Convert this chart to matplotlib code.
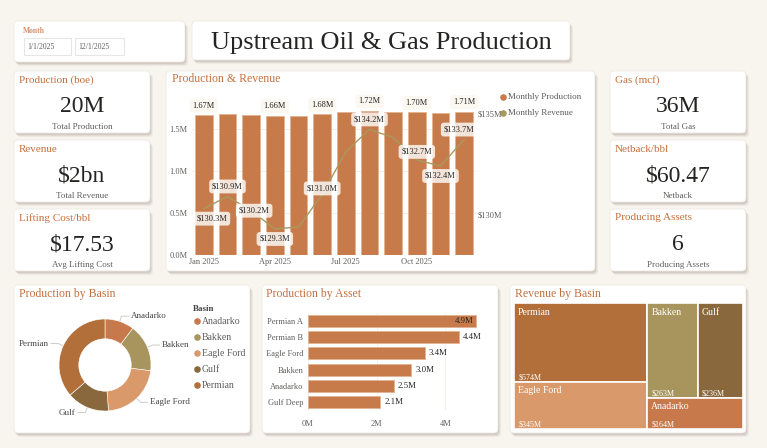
import matplotlib
matplotlib.use('Agg')
import matplotlib.pyplot as plt
from matplotlib.patches import FancyBboxPatch, Rectangle
import numpy as np

plt.rcParams['font.family'] = ['Liberation Serif', 'DejaVu Serif']

W, H = 767, 448
BG = '#F8F4EE'
ORANGE = '#C4703E'
DARK = '#252423'
GREY = '#605E5C'
BAR_C = '#C77B4B'
LINE_C = '#A89A5E'

# ---- data ----
months = ['Jan', 'Feb', 'Mar', 'Apr', 'May', 'Jun', 'Jul', 'Aug', 'Sep', 'Oct', 'Nov', 'Dec']
production = [1.67, 1.68, 1.67, 1.66, 1.66, 1.68, 1.70, 1.72, 1.71, 1.70, 1.69, 1.71]   # M boe
revenue = [130.3, 130.9, 130.2, 129.3, 129.4, 131.0, 133.1, 134.2, 133.8, 132.7, 132.4, 133.7]  # $M
bar_label_idx = [0, 3, 5, 7, 9, 11]
rev_label_idx = [0, 1, 2, 3, 5, 7, 9, 10, 11]
rev_label_off = [(8, -10), (0, 10), (3, 0), (0, -10), (0, 6), (0, 10), (0, 8), (0, -10), (-5, 10)]  # px

basins = ['Anadarko', 'Bakken', 'Eagle Ford', 'Gulf', 'Permian']
basin_prod = [2.09, 3.36, 4.40, 3.01, 7.33]
basin_rev = [164, 263, 345, 236, 574]
basin_colors = ['#C8794C', '#A8955E', '#D9996A', '#8A683D', '#B36F3A']

assets = ['Permian A', 'Permian B', 'Eagle Ford', 'Bakken', 'Anadarko', 'Gulf Deep']
asset_prod = [4.9, 4.4, 3.4, 3.0, 2.5, 2.1]

kpi_left = [('Production (boe)', '20M', 'Total Production'),
            ('Revenue', '$2bn', 'Total Revenue'),
            ('Lifting Cost/bbl', '$17.53', 'Avg Lifting Cost')]
kpi_right = [('Gas (mcf)', '36M', 'Total Gas'),
             ('Netback/bbl', '$60.47', 'Netback'),
             ('Producing Assets', '6', 'Producing Assets')]
date_from, date_to = '1/1/2025', '12/1/2025'

# ---- canvas ----
fig = plt.figure(figsize=(W / 100, H / 100), dpi=100, facecolor=BG)
bg = fig.add_axes([0, 0, 1, 1])
bg.set_xlim(0, W)
bg.set_ylim(H, 0)
bg.axis('off')


def card(x0, y0, x1, y1):
    for d, a in [(4, 0.05), (3, 0.07), (2, 0.09)]:
        bg.add_patch(FancyBboxPatch((x0 + d - 1, y0 + d), x1 - x0, y1 - y0,
                                    boxstyle='round,pad=0,rounding_size=4',
                                    fc='#3A2A1A', ec='none', alpha=a, zorder=1))
    bg.add_patch(FancyBboxPatch((x0, y0), x1 - x0, y1 - y0,
                                boxstyle='round,pad=0,rounding_size=4',
                                fc='white', ec='#ECE7E0', lw=0.5, zorder=2))


def add_ax(x0, y0, x1, y1):
    a = fig.add_axes([x0 / W, 1 - y1 / H, (x1 - x0) / W, (y1 - y0) / H])
    a.set_facecolor('none')
    return a


# month slicer + title
card(14, 21, 185, 62)
bg.text(23, 31, 'Month', color='#D9916A', fontsize=5.5, fontweight='bold', va='center', zorder=3)
for (x0, x1), s in zip([(24, 71), (75, 124)], [date_from, date_to]):
    bg.add_patch(Rectangle((x0, 38), x1 - x0, 17, fc='white', ec='#E6E6E6', lw=0.8, zorder=3))
    bg.text(x0 + 3, 47, s, fontsize=5.5, color=GREY, va='center', zorder=4)

card(192, 21, 570, 60)
bg.text(381, 43, 'Upstream Oil & Gas Production', fontsize=19, color=DARK,
        ha='center', va='center', zorder=3)

# KPI cards
for cx0, cx1, items in [(14, 150, kpi_left), (610, 746, kpi_right)]:
    for (t, v, s), y0, y1 in zip(items, [71, 140, 209], [133, 202, 271]):
        card(cx0, y0, cx1, y1)
        cx = (cx0 + cx1) / 2
        bg.text(cx0 + 5, y0 + 9, t, fontsize=8, color=ORANGE, va='center', zorder=3)
        bg.text(cx, y0 + 36, v, fontsize=17, color=DARK, ha='center', va='center', zorder=3)
        bg.text(cx, y0 + 56, s, fontsize=6.5, color=GREY, ha='center', va='center', zorder=3)

# ---- Production & Revenue ----
card(166, 71, 595, 271)
bg.text(172, 79, 'Production & Revenue', fontsize=8.5, color=ORANGE, va='center', zorder=3)

ax = add_ax(192, 104, 476, 255)
x = np.arange(len(months))
ax.bar(x, production, width=0.76, color=BAR_C, edgecolor='#E2B393', linewidth=0.6)
ax.set_xlim(-0.5, len(months) - 0.5)
ax.set_ylim(0, 1.8)
ax.set_yticks([0, 0.5, 1.0, 1.5])
ax.set_yticklabels([f'{v:.1f}M' for v in [0, 0.5, 1.0, 1.5]])
ax.set_xticks([0, 3, 6, 9])
ax.set_xticklabels([f'{months[i]} 2025' for i in [0, 3, 6, 9]])
ax.yaxis.grid(True, color='#EFEAE4', lw=0.6)
ax.set_axisbelow(True)
ax.tick_params(length=0, labelsize=6, colors=GREY, pad=3)
ax.tick_params(axis='x', pad=2)
for sp in ax.spines.values():
    sp.set_visible(False)
for i in bar_label_idx:
    ax.annotate(f'{production[i]:.2f}M', (i, production[i]), xytext=(0, 6.7),
                textcoords='offset points', ha='center', va='center', fontsize=6, color=DARK,
                bbox=dict(boxstyle='round,pad=0.35', fc='#FBF7F1', ec='none'))

ax2 = ax.twinx()
ax2.set_facecolor('none')
ax2.plot(x, revenue, color=LINE_C, lw=1)
ax2.set_ylim(128.02, 135.45)
ax2.set_yticks([130, 135])
ax2.set_yticklabels(['$130M', '$135M'])
ax2.tick_params(length=0, labelsize=6, colors=GREY, pad=1.5)
for sp in ax2.spines.values():
    sp.set_visible(False)
for i, (dx, dy) in zip(rev_label_idx, rev_label_off):
    ax2.annotate(f'${revenue[i]:.1f}M', (i, revenue[i]), xytext=(dx * 0.72, dy * 0.72),
                 textcoords='offset points', ha='center', va='center', fontsize=6, color=DARK,
                 bbox=dict(boxstyle='round,pad=0.35', fc='white', ec='none', alpha=0.8))

for k, (name, c) in enumerate([('Monthly Production', BAR_C), ('Monthly Revenue', LINE_C)]):
    bg.scatter(503, 97 + 16 * k, s=14, color=c, zorder=3)
    bg.text(508, 97 + 16 * k, name, fontsize=6.5, color=GREY, va='center', zorder=3)

# ---- Production by Basin ----
card(14, 285, 250, 433)
bg.text(19, 294, 'Production by Basin', fontsize=8.5, color=ORANGE, va='center', zorder=3)
axd = add_ax(105 - 46, 365 - 46, 105 + 46, 365 + 46)
wedges, _ = axd.pie(basin_prod, colors=basin_colors, startangle=90, counterclock=False, radius=1,
                    wedgeprops=dict(width=0.43, edgecolor='white', linewidth=0.4))
axd.set_xlim(-1, 1)
axd.set_ylim(-1, 1)
for w, name in zip(wedges, basins):
    th = np.deg2rad((w.theta1 + w.theta2) / 2)
    c, s = np.cos(th), np.sin(th)
    sign = 1 if c > 0 else -1
    ex, ey = 1.12 * c, 1.12 * s
    axd.plot([c * 1.01, ex, ex + sign * 0.16], [s * 1.01, ey, ey], color='#C8C4BE', lw=0.6, clip_on=False)
    axd.text(ex + sign * 0.21, ey, name, fontsize=6.5, color='#444444', va='center',
             ha='left' if sign > 0 else 'right', clip_on=False)

bg.text(193, 309, 'Basin', fontsize=6.5, fontweight='bold', color='#444444', va='center', zorder=3)
for k, (name, c) in enumerate(zip(basins, basin_colors)):
    bg.scatter(197, 321 + 16 * k, s=14, color=c, zorder=3)
    bg.text(202, 321 + 16 * k, name, fontsize=7, color=GREY, va='center', zorder=3)

# ---- Production by Asset ----
card(262, 285, 498, 433)
bg.text(266, 294, 'Production by Asset', fontsize=8.5, color=ORANGE, va='center', zorder=3)
axa = add_ax(308, 313, 483, 410)
ya = np.arange(len(assets))
axa.barh(ya, asset_prod, height=0.74, color=BAR_C, edgecolor='#E2B393', linewidth=0.6)
axa.set_ylim(len(assets) - 0.5, -0.5)
axa.set_xlim(0, 5.1)
axa.set_yticks(ya)
axa.set_yticklabels(assets)
axa.set_xticks([0, 2, 4])
axa.set_xticklabels([f'{v}M' for v in [0, 2, 4]])
axa.xaxis.grid(True, color='#F1ECE6', lw=0.6)
axa.set_axisbelow(True)
axa.tick_params(length=0, labelsize=6, colors=GREY, pad=3.5)
axa.tick_params(axis='x', pad=7)
for sp in axa.spines.values():
    sp.set_visible(False)
for yy, v in zip(ya, asset_prod):
    inside = v == max(asset_prod)
    axa.annotate(f'{v:.1f}M', (v, yy), xytext=(-2 if inside else 3, 0), textcoords='offset points',
                 ha='right' if inside else 'left', va='center', fontsize=6.3, color=DARK, clip_on=False)

# ---- Revenue by Basin (treemap) ----
card(510, 285, 746, 433)
bg.text(515, 294, 'Revenue by Basin', fontsize=8.5, color=ORANGE, va='center', zorder=3)
axt = add_ax(514, 303, 743, 429)
axt.set_xlim(0, 1)
axt.set_ylim(1, 0)
axt.axis('off')
rv = dict(zip(basins, basin_rev))
col = dict(zip(basins, basin_colors))
total = sum(basin_rev)
w1 = (rv['Permian'] + rv['Eagle Ford']) / total
h_p = rv['Permian'] / (rv['Permian'] + rv['Eagle Ford'])
top2 = rv['Bakken'] + rv['Gulf']
h_t = top2 / (top2 + rv['Anadarko'])
w_b = (1 - w1) * rv['Bakken'] / top2
rects = {
    'Permian': (0, 0, w1, h_p),
    'Eagle Ford': (0, h_p, w1, 1 - h_p),
    'Bakken': (w1, 0, w_b, h_t),
    'Gulf': (w1 + w_b, 0, 1 - w1 - w_b, h_t),
    'Anadarko': (w1, h_t, 1 - w1, 1 - h_t),
}
for name, (rx, ry, rw, rh) in rects.items():
    axt.add_patch(Rectangle((rx, ry), rw, rh, fc=col[name], ec='white', lw=1.2))
    axt.annotate(name, (rx, ry), xytext=(3, -6.5), textcoords='offset points',
                 fontsize=7, color='white', va='center', ha='left')
    axt.annotate(f'${rv[name]}M', (rx, ry + rh), xytext=(3, 3.2), textcoords='offset points',
                 fontsize=5.8, color='white', va='center', ha='left')

fig.savefig('out.png', dpi=100, facecolor=BG)
